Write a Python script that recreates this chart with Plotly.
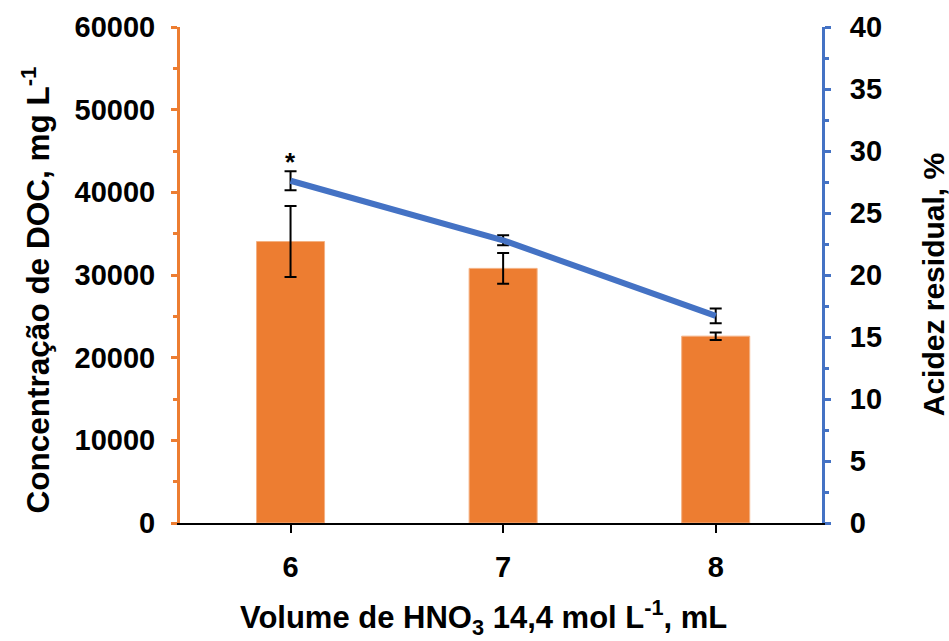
import plotly.graph_objects as go

volumes = [6, 7, 8]
doc_values = [34050, 30800, 22600]
doc_errors = [4300, 1850, 450]
acid_values = [27.6, 22.8, 16.7]
acid_errors = [0.77, 0.4, 0.6]
left_ticks = [0, 10000, 20000, 30000, 40000, 50000, 60000]
right_ticks = [0, 5, 10, 15, 20, 25, 30, 35, 40]

ORANGE = "#ED7D31"
BLUE = "#4472C4"
FONT = "Liberation Sans, Arial, sans-serif"
tickfont = dict(family=FONT, size=29, color="black", weight="bold")

fig = go.Figure()
fig.add_trace(go.Bar(
    x=volumes, y=doc_values, width=0.32,
    marker=dict(color=ORANGE, line=dict(color="#F4B183", width=1)),
    error_y=dict(type="data", array=doc_errors, color="black", thickness=2, width=6),
    yaxis="y", showlegend=False,
))
fig.add_trace(go.Scatter(
    x=volumes, y=acid_values, mode="lines",
    line=dict(color=BLUE, width=6),
    error_y=dict(type="data", array=acid_errors, color="black", thickness=2, width=6),
    yaxis="y2", showlegend=False,
))

fig.update_layout(
    width=949, height=641,
    margin=dict(l=180, r=127, t=27, b=118),
    plot_bgcolor="white", paper_bgcolor="white",
    xaxis=dict(
        range=[5.48, 8.5], tickvals=volumes, ticktext=[str(v) for v in volumes],
        showline=True, linecolor="black", linewidth=1.5,
        ticks="outside", ticklen=8, tickcolor="black", tickwidth=1.5,
        tickfont=tickfont, ticklabelstandoff=9, showgrid=False, zeroline=False,
    ),
    yaxis=dict(
        range=[0, 60000], tickvals=left_ticks, ticktext=[str(v) for v in left_ticks],
        showline=True, linecolor=ORANGE, linewidth=3,
        ticks="outside", ticklen=6, tickcolor=ORANGE, tickwidth=3,
        minor=dict(dtick=5000, ticks="outside", ticklen=4, tickcolor=ORANGE, tickwidth=3),
        tickfont=tickfont, ticklabelstandoff=10, showgrid=False, zeroline=False,
    ),
    yaxis2=dict(
        range=[0, 40], tickvals=right_ticks, ticktext=[str(v) for v in right_ticks],
        overlaying="y", side="right",
        showline=True, linecolor=BLUE, linewidth=3,
        ticks="outside", ticklen=6, tickcolor=BLUE, tickwidth=3,
        minor=dict(dtick=2.5, ticks="outside", ticklen=4, tickcolor=BLUE, tickwidth=3),
        tickfont=tickfont, ticklabelstandoff=13, showgrid=False, zeroline=False,
    ),
)

fig.add_annotation(
    text="Concentração de DOC, mg L<sup>-1</sup>", textangle=-90,
    xref="paper", yref="paper", x=-0.225, y=0.47, xanchor="center", yanchor="middle",
    showarrow=False, font=dict(family=FONT, size=31.5, color="black", weight="bold"),
)
fig.add_annotation(
    text="Acidez residual, %", textangle=-90,
    xref="paper", yref="paper", x=1.175, y=0.48, xanchor="center", yanchor="middle",
    showarrow=False, font=dict(family=FONT, size=30, color="black", weight="bold"),
)
fig.add_annotation(
    text="Volume de HNO<sub>3</sub> 14,4 mol L<sup>-1</sup>, mL",
    xref="paper", yref="paper", x=0.472, y=-0.19, xanchor="center", yanchor="middle",
    showarrow=False, font=dict(family=FONT, size=31, color="black", weight="bold"),
)
fig.add_annotation(
    text="*", x=volumes[0], y=acid_values[0] + acid_errors[0] + 0.75,
    xref="x", yref="y2", showarrow=False, yanchor="middle",
    font=dict(family=FONT, size=26, color="black", weight="bold"),
)

fig.write_html("out.html")
